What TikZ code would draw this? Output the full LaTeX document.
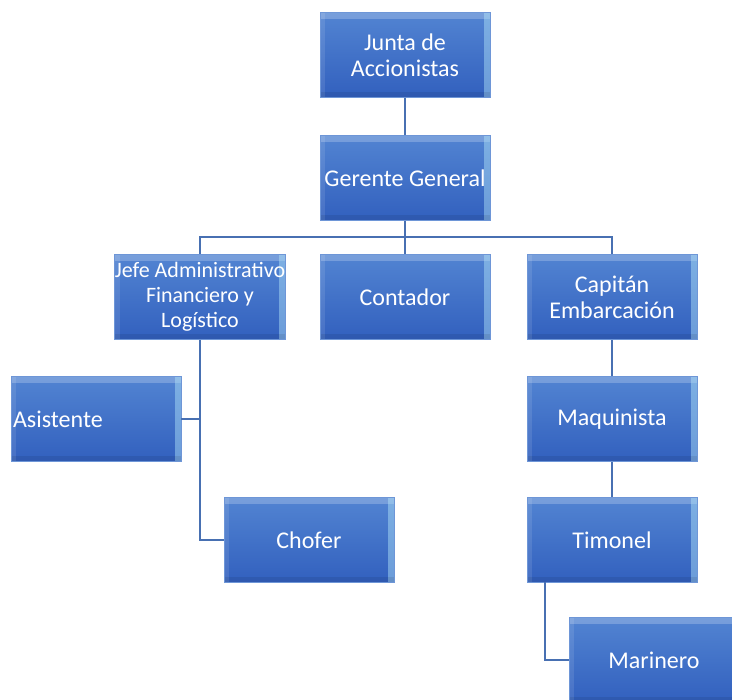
\documentclass[tikz,border=0pt]{standalone}
\usepackage{fontspec}
\setmainfont{Carlito}
\usetikzlibrary{positioning,calc}
\usepackage{xcolor}
\definecolor{orgTop}{RGB}{82,132,210}
\definecolor{orgBot}{RGB}{50,96,190}
\definecolor{orgEdge}{RGB}{110,150,215}
\definecolor{orgLine}{RGB}{72,112,178}
\tikzset{
    orgbox/.style={
        draw=orgEdge,line width=0.8pt,top color=orgTop,bottom color=orgBot,
        minimum width=170pt,minimum height=85pt,inner sep=0pt,
        align=center,text=white,font=\fontsize{24}{26}\selectfont,
        path picture={
            \fill[white,opacity=0.22] (path picture bounding box.north west)
                rectangle ([yshift=-7pt]path picture bounding box.north east);
            \fill[cyan!30,opacity=0.45] ([xshift=-6pt]path picture bounding box.north east)
                rectangle (path picture bounding box.south east);
            \fill[white,opacity=0.10] (path picture bounding box.north west)
                rectangle ([xshift=5pt]path picture bounding box.south west);
            \fill[black,opacity=0.08] (path picture bounding box.south west)
                rectangle ([yshift=5pt]path picture bounding box.south east);
        }
    },
    link/.style={draw=orgLine,line width=2.8pt}
}

\begin{document}
\begin{tikzpicture}[x=1pt,y=-1pt]
\useasboundingbox (0,0) rectangle (732,700);

\node[orgbox](junta) at (405,55) {Junta de\\Accionistas};
\node[orgbox](ger) at (405,178) {Gerente General};

\node[orgbox,font=\fontsize{22}{25}\selectfont](jefe) at (200,297) {Jefe Administrativo\\Financiero y\\Logístico};
\node[orgbox](cont) at (405,297) {Contador};
\node[orgbox](cap) at (612,297) {Capitán\\Embarcación};

\node[orgbox,text width=166pt,align=left](asis) at (96,419) {Asistente};
\node[orgbox](chof) at (309,540) {Chofer};

\node[orgbox](maq) at (612,419) {Maquinista};
\node[orgbox](tim) at (612,540) {Timonel};
\node[orgbox](mar) at (654,660) {Marinero};

\coordinate (bus) at (405,237);
\coordinate (timdrop) at (545,582);

\draw[link](junta)--(ger);
\draw[link](ger.south)--(bus);
\draw[link](bus)-|(jefe.north);
\draw[link](bus)--(cont.north);
\draw[link](bus)-|(cap.north);
\draw[link](jefe.south)|-(asis.east);
\draw[link](jefe.south)|-(chof.west);
\draw[link](cap)--(maq);
\draw[link](maq)--(tim);
\draw[link](timdrop)|-(mar.west);

\end{tikzpicture}
\end{document}
